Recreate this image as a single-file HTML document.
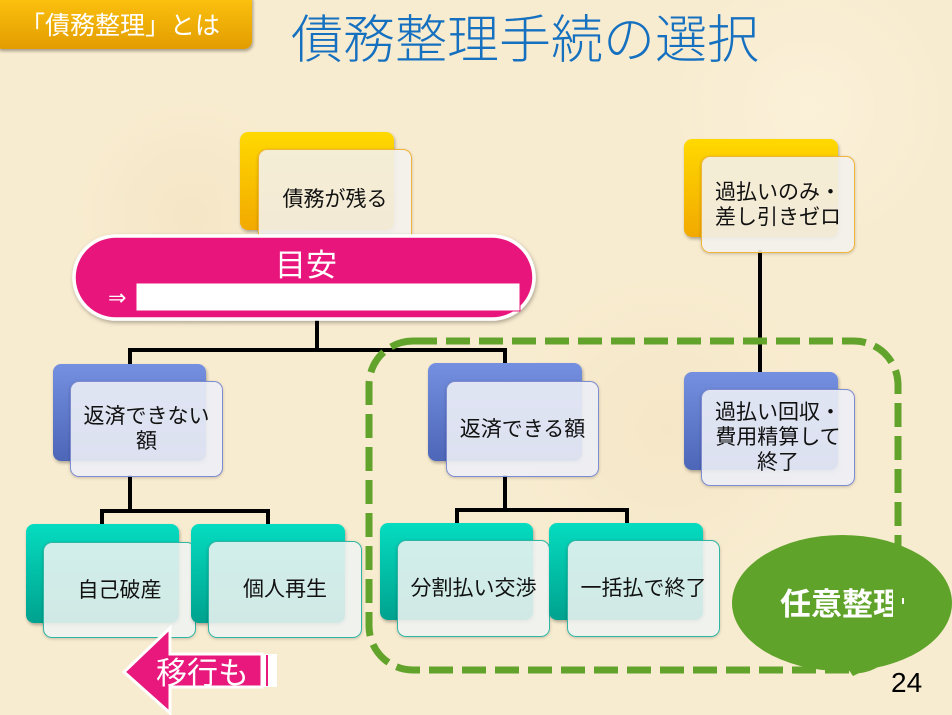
<!DOCTYPE html>
<html><head><meta charset="utf-8">
<style>
html,body{margin:0;padding:0}
body{width:952px;height:715px;overflow:hidden;position:relative;
background:#f8ecd0;
background-image:radial-gradient(circle at 20% 30%, rgba(240,222,185,.45) 0, rgba(240,222,185,0) 120px),
radial-gradient(circle at 70% 60%, rgba(240,222,185,.4) 0, rgba(240,222,185,0) 160px),
radial-gradient(circle at 85% 15%, rgba(255,248,230,.4) 0, rgba(255,248,230,0) 140px);
font-family:"Liberation Sans","Noto Sans CJK JP",sans-serif;}
.abs{position:absolute}
.back{position:absolute;border-radius:8px;box-shadow:1px 2px 3px rgba(0,0,0,.3)}
.front{position:absolute;border-radius:9px;display:flex;align-items:center;justify-content:center;text-align:center;font-size:21px;line-height:25px;color:#111;box-sizing:border-box;box-shadow:0 1px 3px rgba(0,0,0,.2)}
.y{background:linear-gradient(#ffd900,#f2a900)}
.b{background:linear-gradient(#7590e0,#4d66b8)}
.t{background:linear-gradient(#05dcc0,#00a28e)}
.fy{background:rgba(243,241,236,.9);border:1.5px solid #f0b43a}
.fb{background:rgba(236,238,246,.9);border:1.5px solid #7d8ccf}
.ft{background:rgba(238,243,241,.88);border:1.5px solid #2fb6a3}
</style></head><body>

<!-- connectors -->
<svg class="abs" style="left:0;top:0;z-index:1" width="952" height="715">
<g stroke="#000" stroke-width="4" fill="none" stroke-linejoin="miter">
<line x1="317" y1="318" x2="317" y2="350"/>
<polyline points="130,366 130,350 505,350 505,366"/>
<line x1="130" y1="475" x2="130" y2="511"/>
<polyline points="102,525 102,511 268,511 268,525"/>
<line x1="505" y1="475" x2="505" y2="510"/>
<polyline points="457,524 457,510 627,510 627,524"/>
<line x1="760" y1="250" x2="760" y2="374"/>
</g>
</svg>

<!-- badge -->
<div class="abs" style="left:-6px;top:-8px;width:258px;height:57px;border-radius:8px;background:linear-gradient(#ffc610,#e29c00);box-shadow:1px 2px 3px rgba(0,0,0,.35);z-index:2"></div>
<svg class="abs" style="left:0;top:0;z-index:3" width="952" height="80">
<text x="20" y="34" font-size="25" fill="#fff" font-family="'Liberation Sans','Noto Sans CJK JP',sans-serif">「債務整理」とは</text>
<text x="291" y="58" font-size="52" fill="#1670c0" font-weight="300" font-family="'Liberation Sans','Noto Sans CJK JP',sans-serif">債務整理手続の選択</text>
</svg>

<!-- boxes -->
<div style="position:absolute;left:0;top:0;z-index:2">
<div class="back y" style="left:240px;top:132px;width:154px;height:98px"></div>
<div class="front fy" style="left:258px;top:149px;width:154px;height:100px">債務が残る</div>

<div class="back y" style="left:684px;top:139px;width:154px;height:98px"></div>
<div class="front fy" style="left:701px;top:156px;width:154px;height:97px">過払いのみ・<br>差し引きゼロ</div>

<div class="back b" style="left:53px;top:364px;width:153px;height:97px"></div>
<div class="front fb" style="left:70px;top:381px;width:153px;height:96px">返済できない<br>額</div>

<div class="back b" style="left:428px;top:363px;width:154px;height:98px"></div>
<div class="front fb" style="left:446px;top:381px;width:153px;height:96px">返済できる額</div>

<div class="back b" style="left:684px;top:372px;width:154px;height:98px"></div>
<div class="front fb" style="left:701px;top:389px;width:154px;height:97px">過払い回収・<br>費用精算して<br>終了</div>

<div class="back t" style="left:26px;top:524px;width:153px;height:99px"></div>
<div class="front ft" style="left:43px;top:542px;width:153px;height:96px">自己破産</div>

<div class="back t" style="left:191px;top:524px;width:154px;height:99px"></div>
<div class="front ft" style="left:208px;top:541px;width:154px;height:97px">個人再生</div>

<div class="back t" style="left:380px;top:523px;width:153px;height:97px"></div>
<div class="front ft" style="left:397px;top:540px;width:153px;height:97px">分割払い交渉</div>

<div class="back t" style="left:549px;top:523px;width:154px;height:97px"></div>
<div class="front ft" style="left:567px;top:540px;width:153px;height:97px">一括払で終了</div>
</div>

<!-- overlay shapes -->
<svg class="abs" style="left:0;top:0;z-index:5" width="952" height="715">
<defs>
<filter id="sh" x="-10%" y="-10%" width="120%" height="130%"><feDropShadow dx="1" dy="2" stdDeviation="2" flood-opacity=".3"/></filter>
<clipPath id="cl"><rect x="0" y="0" width="893" height="715"/></clipPath>
</defs>
<!-- pink pill -->
<rect x="74" y="236" width="460" height="83" rx="42" ry="42" fill="#e8187c" stroke="#fff" stroke-width="3.5" filter="url(#sh)"/>
<text x="306" y="276" font-size="31" fill="#fff" text-anchor="middle" font-family="'Liberation Sans','Noto Sans CJK JP',sans-serif">目安</text>
<text x="108" y="305" font-size="22" fill="#fff" font-family="'DejaVu Sans',sans-serif">⇒</text>
<rect x="136" y="283" width="384" height="28" fill="#fff" stroke="#e8187c" stroke-width="1"/>

<!-- dashed region -->
<rect x="369" y="341" width="529" height="329" rx="44" ry="44" fill="none" stroke="#62a32b" stroke-width="7" stroke-dasharray="24 9"/>

<!-- green bubble -->
<polygon points="842,660 853,676 878,664" fill="#60a32a"/>
<ellipse cx="842" cy="603" rx="110" ry="68" fill="#60a32a"/>
<text x="780" y="615" font-size="31" font-weight="bold" fill="#fff" clip-path="url(#cl)" font-family="'Liberation Sans','Noto Sans CJK JP',sans-serif">任意整理</text>
<rect x="902" y="598" width="2" height="6" fill="#fff"/>

<!-- 24 -->
<text x="891" y="692" font-size="28" fill="#000" font-family="'Liberation Sans',sans-serif">24</text>

<!-- arrow -->
<rect x="258" y="654" width="19" height="33" fill="#fff"/>
<rect x="266" y="655" width="2" height="31" fill="#e8187c"/>
<polygon points="124,672 170,628 170,654 262,654 262,687 170,687 170,713" fill="#e8187c" stroke="#fff" stroke-width="3" stroke-linejoin="miter"/>
<text x="156" y="684" font-size="31" fill="#fff" font-family="'Liberation Sans','Noto Sans CJK JP',sans-serif">移行も</text>
</svg>
</body></html>
